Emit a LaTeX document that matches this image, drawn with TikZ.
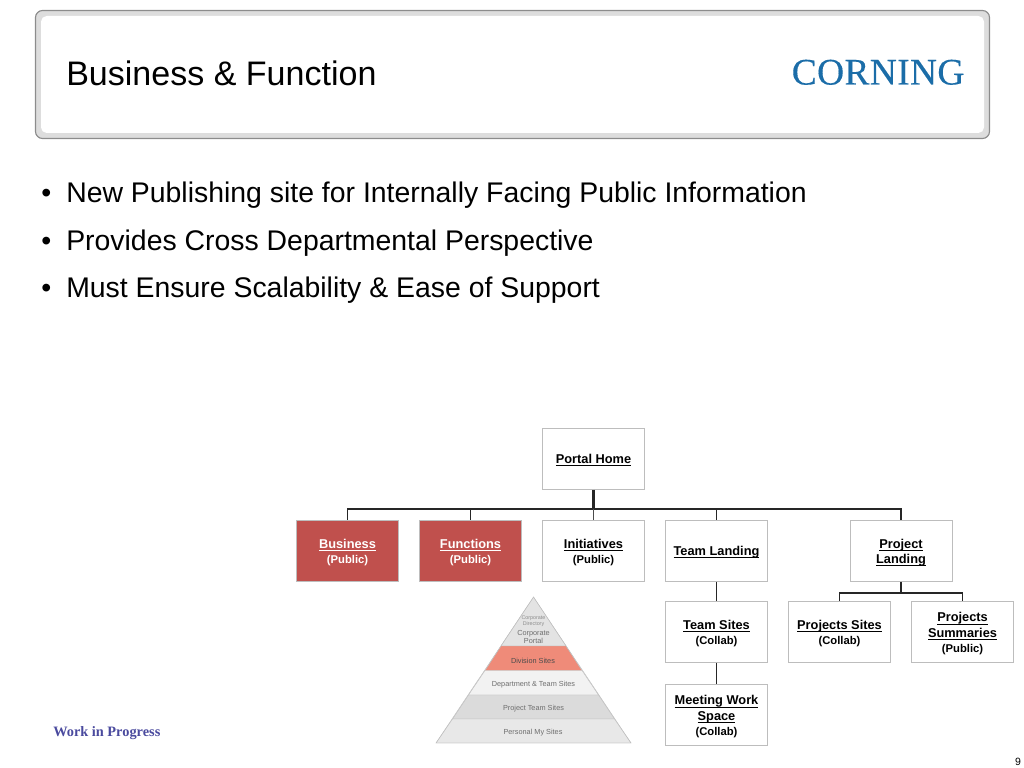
\documentclass[tikz,border=0pt]{standalone}
\usepackage{fontspec}
\setmainfont{Liberation Sans}
\newfontfamily\serifcorp{Liberation Serif}
\newfontfamily\logofont[FakeBold=0.25,LetterSpace=1.0]{Liberation Serif}
\definecolor{boxline}{HTML}{BDBDBD}
\definecolor{boxred}{HTML}{C0504D}
\definecolor{headgrey}{HTML}{DDDDDD}
\definecolor{headline}{HTML}{8C8C8C}
\definecolor{corpblue}{HTML}{1B6DA8}
\definecolor{wipblue}{HTML}{4A4A9E}
\definecolor{pyrtext}{HTML}{6E6E6E}
\definecolor{pyrred}{HTML}{EF8B79}
\newcommand{\ulabel}[1]{\underline{\rule{0pt}{8.8pt}\smash{#1}}}
\newcommand{\access}[1]{{\fontsize{8}{10}\selectfont #1}}
\tikzset{
  pagebox/.style={draw=boxline,fill=white,line width=0.5pt,minimum width=2.55cm,minimum height=1.53cm,inner sep=0pt,align=center,font=\fontsize{9.1}{10.8}\selectfont\bfseries},
  redbox/.style={pagebox,fill=boxred,text=white},
  treeline/.style={line width=1.2pt,black!85},
  bullettext/.style={anchor=base west,inner sep=0pt,font=\fontsize{20.2}{24}\selectfont},
  pyrband/.style={draw=black!25,line width=0.3pt},
  pyrlabel/.style={text=pyrtext,inner sep=0pt,align=center,font=\fontsize{5.2}{6}\selectfont}
}
\begin{document}
\begin{tikzpicture}[x=0.025cm,y=-0.025cm]
\useasboundingbox (0,0) rectangle (1024,768);

% header
\draw[headline,fill=headgrey,line width=0.8pt,rounded corners=5pt] (35.5,10.5) rectangle (989.5,138.5);
\fill[white,rounded corners=4pt] (41,16) rectangle (984,133);
\node[anchor=base west,inner sep=0pt,font=\fontsize{24.2}{28}\selectfont] (title) at (66,86) {Business \& Function};
\node[anchor=base west,inner sep=0pt,text=corpblue,font=\fontsize{26.6}{30}\logofont] (logo) at (791.5,84.5) {CORNING};

% bullets
\node[bullettext] (dot1) at (41,202) {•};
\node[bullettext] (dot2) at (41,250) {•};
\node[bullettext] (dot3) at (41,297) {•};
\node[bullettext] (line1) at (66,202) {New Publishing site for Internally Facing Public Information};
\node[bullettext] (line2) at (66,250) {Provides Cross Departmental Perspective};
\node[bullettext] (line3) at (66,297) {Must Ensure Scalability \& Ease of Support};

% tree
\node[pagebox] (home) at (593.5,459) {\ulabel{Portal Home}};
\node[redbox] (business) at (347.5,551) {\ulabel{Business}\\\access{(Public)}};
\node[redbox] (functions) at (470.5,551) {\ulabel{Functions}\\\access{(Public)}};
\node[pagebox] (initiatives) at (593.5,551) {\ulabel{Initiatives}\\\access{(Public)}};
\node[pagebox] (teamland) at (716.5,551) {\ulabel{Team Landing}};
\node[pagebox] (projland) at (901,551) {\ulabel{Project}\\\ulabel{Landing}};
\node[pagebox] (teamsites) at (716.5,632) {\ulabel{Team Sites}\\\access{(Collab)}};
\node[pagebox] (projsites) at (839.5,632) {\ulabel{Projects Sites}\\\access{(Collab)}};
\node[pagebox] (projsum) at (962.5,632) {\ulabel{Projects}\\\ulabel{Summaries}\\\access{(Public)}};
\node[pagebox] (meeting) at (716.5,715) {\ulabel{Meeting Work}\\\ulabel{Space}\\\access{(Collab)}};

\coordinate (bus) at (593.5,509);
\coordinate (projbus) at (901,593);
\draw[treeline,line width=2pt] (home) -- (bus);
\draw[treeline] (bus) -| (business);
\draw[treeline] (bus) -| (functions);
\draw[treeline,line width=0.7pt,black!70] (bus) -- (initiatives);
\draw[treeline] (bus) -| (teamland);
\draw[treeline] (bus) -| (projland);
\draw[treeline,line width=1.6pt] (projland) -- (projbus);
\draw[treeline] (projbus) -| (projsites);
\draw[treeline] (projbus) -| (projsum);
\draw[treeline] (teamland) -- (teamsites);
\draw[treeline] (teamsites) -- (meeting);

% pyramid
\fill[pyrband,fill=black!11] (533.5,597) -- (566,646) -- (501,646) -- cycle;
\fill[pyrband,fill=pyrred] (501,646) -- (566,646) -- (582,670.5) -- (485,670.5) -- cycle;
\fill[pyrband,fill=black!5] (485,670.5) -- (582,670.5) -- (598.5,695) -- (468.5,695) -- cycle;
\fill[pyrband,fill=black!14] (468.5,695) -- (598.5,695) -- (614.5,719) -- (452.5,719) -- cycle;
\fill[pyrband,fill=black!9] (452.5,719) -- (614.5,719) -- (631,743) -- (436,743) -- cycle;
\draw[pyrband] (533.5,597) -- (631,743) -- (436,743) -- cycle;
\node[pyrlabel,font=\fontsize{3.8}{4.4}\selectfont,text=black!45] (pyr1) at (533.5,621) {Corporate\\Directory};
\node[pyrlabel] (pyr2) at (533.5,637) {Corporate\\Portal};
\node[pyrlabel,text=black!70] (pyr3) at (533,660.5) {Division Sites};
\node[pyrlabel] (pyr4) at (533.5,684.5) {Department \& Team Sites};
\node[pyrlabel] (pyr5) at (533.5,708.5) {Project Team Sites};
\node[pyrlabel] (pyr6) at (533,733) {Personal My Sites};

% footer
\node[anchor=base west,inner sep=0pt,text=wipblue,font=\fontsize{10.2}{12}\serifcorp\bfseries] (wip) at (53,736) {Work in Progress};
\node[anchor=base,inner sep=0pt,font=\fontsize{7.5}{9}\selectfont] (pagenum) at (1018,765) {9};
\end{tikzpicture}
\end{document}
